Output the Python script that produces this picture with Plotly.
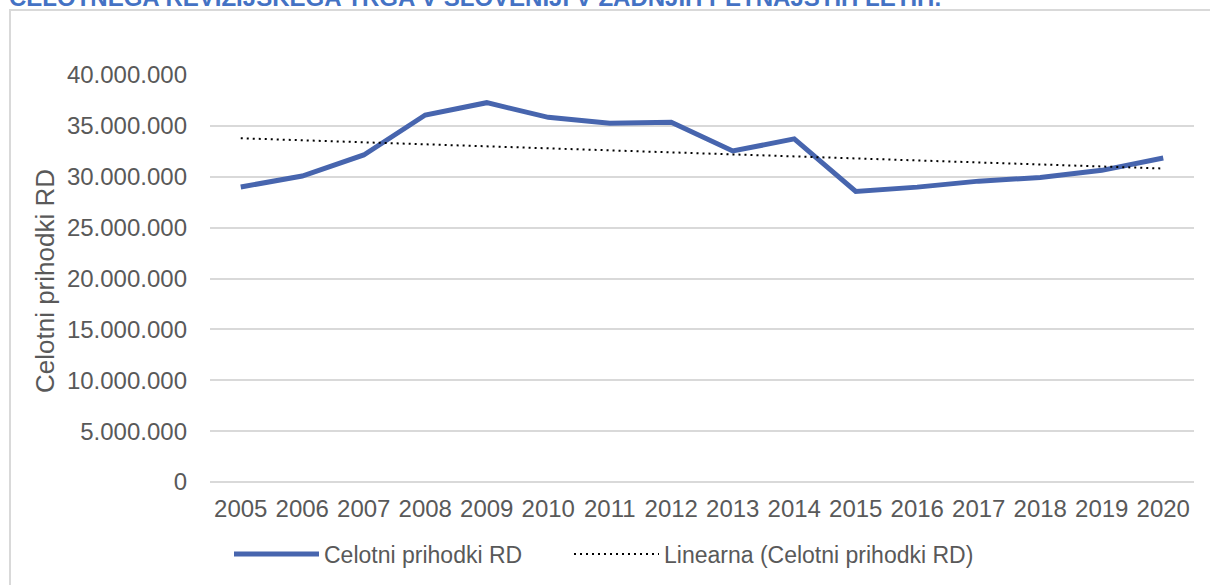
import numpy as np
import plotly.graph_objects as go

years = [2005, 2006, 2007, 2008, 2009, 2010, 2011, 2012,
         2013, 2014, 2015, 2016, 2017, 2018, 2019, 2020]
prihodki = [28990000, 30070000, 32140000, 36070000, 37280000, 35840000, 35250000, 35360000,
            32530000, 33720000, 28550000, 28980000, 29570000, 29930000, 30630000, 31840000]
y_ticks = [0, 5000000, 10000000, 15000000, 20000000, 25000000, 30000000, 35000000, 40000000]
y_labels = ['0', '5.000.000', '10.000.000', '15.000.000', '20.000.000',
            '25.000.000', '30.000.000', '35.000.000', '40.000.000']

# linear trendline (like Excel's "Linearna")
idx = np.arange(len(years))
k, n = np.polyfit(idx, prihodki, 1)
trend = k * idx + n

FONT = 'Liberation Sans, Arial, sans-serif'
GREY = '#595959'
W, H = 1210, 585
L, R, T, B = 210, 16, 75, 103
pw, ph = W - L - R, H - T - B

def px_x(p):
    return (p - L) / pw

def px_y(p):
    return (H - B - p) / ph

x_cat = [str(y) for y in years]

fig = go.Figure()
fig.add_trace(go.Scatter(x=x_cat, y=prihodki, mode='lines', name='Celotni prihodki RD',
                         line=dict(color='#4765AE', width=5), legend='legend'))
fig.add_trace(go.Scatter(x=x_cat, y=trend, mode='lines', name='Linearna (Celotni prihodki RD)',
                         line=dict(color='#000000', width=2, dash='2px,4px'), legend='legend2'))

leg = dict(orientation='h', xanchor='left', y=px_y(554), yanchor='middle',
           font=dict(size=23, color=GREY), itemwidth=85, bgcolor='rgba(0,0,0,0)')

fig.update_layout(
    width=W, height=H,
    margin=dict(l=L, r=R, t=T, b=B, autoexpand=False),
    paper_bgcolor='white', plot_bgcolor='white',
    font=dict(family=FONT, color=GREY, size=24),
    showlegend=True,
    legend=dict(leg, x=px_x(229)),
    legend2=dict(leg, x=px_x(569)),
    xaxis=dict(type='category', range=[-0.5, 15.5], showgrid=False, showline=False,
               zeroline=False, ticks='', ticklabelstandoff=10,
               tickfont=dict(size=24, color=GREY)),
    yaxis=dict(range=[0, 40000000], tickvals=y_ticks, ticktext=y_labels,
               showgrid=True, gridcolor='#d9d9d9', gridwidth=1.5,
               zeroline=True, zerolinecolor='#d9d9d9', zerolinewidth=1.5,
               showline=False, ticks='', ticklabelstandoff=22,
               tickfont=dict(size=24, color=GREY)),
    shapes=[dict(type='rect', xref='paper', yref='paper',
                 x0=px_x(10), x1=px_x(1230), y0=px_y(600), y1=px_y(10),
                 line=dict(color='#d9d9d9', width=2), fillcolor='rgba(0,0,0,0)', layer='below')],
    annotations=[
        dict(text='Celotni prihodki RD', xref='paper', yref='paper',
             x=px_x(45), y=px_y(281), textangle=-90, showarrow=False,
             font=dict(size=26, color=GREY), xanchor='center', yanchor='middle'),
        dict(text='<b>CELOTNEGA REVIZIJSKEGA TRGA V SLOVENIJI V ZADNJIH PETNAJSTIH LETIH.</b>',
             xref='paper', yref='paper', x=px_x(8), y=px_y(12), xanchor='left', yanchor='bottom',
             showarrow=False, borderpad=0, font=dict(size=24, color='#4472C4')),
    ],
)

fig.write_html('out.html', config={'displayModeBar': False},
               post_script="document.body.style.margin='0';")
